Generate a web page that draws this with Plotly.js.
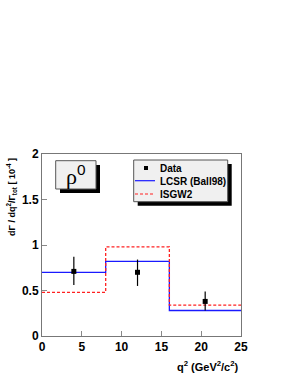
<!DOCTYPE html>
<html><head><meta charset="utf-8">
<script src="https://cdn.plot.ly/plotly-3.0.1.min.js"></script>
<style>body{margin:0;padding:0;background:#fff}#c{width:291px;height:376px}</style>
</head><body><div id="c"></div>
<script>
// Data
const binEdges = [0, 8, 16, 25];
const lcsr = [0.70, 0.82, 0.28];
const isgw2 = [0.48, 0.98, 0.34];
const dataX = [4, 12, 20.5];
const dataY = [0.71, 0.70, 0.38];
const errUp = [0.16, 0.14, 0.11];
const errDown = [0.15, 0.15, 0.10];
const xTicks = [0, 5, 10, 15, 20, 25];
const yTicks = [0, 0.5, 1, 1.5, 2];

const stepY = arr => arr.concat([arr[arr.length - 1]]);
const F = 'Liberation Sans, Arial, sans-serif';

const traces = [
  {x: binEdges, y: stepY(lcsr), mode: 'lines', line: {shape: 'hv', color: '#1a1aff', width: 1.3}, name: 'LCSR (Ball98)', showlegend: false},
  {x: binEdges, y: stepY(isgw2), mode: 'lines', line: {shape: 'hv', color: '#ff2020', width: 1.3, dash: '3px,2px'}, name: 'ISGW2', showlegend: false},
  {x: dataX, y: dataY, mode: 'markers', marker: {symbol: 'square', size: 5, color: '#000'},
   error_y: {type: 'data', symmetric: false, array: errUp, arrayminus: errDown, color: '#000', thickness: 1.2, width: 0},
   name: 'Data', showlegend: false}
];

const L = {x0: 133.7, x1: 227.7, y0: 160, y1: 201.7};
const pl = 42, pr = 241, pt = 154, pb = 336;
const px = v => (v - pl) / (pr - pl);
const py = v => (pb - v) / (pb - pt);

const shapes = [
  {type: 'rect', xref: 'paper', yref: 'paper', x0: px(60), x1: px(100), y0: py(193), y1: py(165), fillcolor: '#000', line: {width: 0}, layer: 'above'},
  {type: 'rect', xref: 'paper', yref: 'paper', x0: px(55.7), x1: px(96), y0: py(189), y1: py(160.7), fillcolor: '#f0f0f0', line: {color: '#555', width: 1}, layer: 'above'},
  {type: 'rect', xref: 'paper', yref: 'paper', x0: px(L.x0 + 4), x1: px(L.x1 + 4), y0: py(L.y1 + 4), y1: py(L.y0 + 4), fillcolor: '#000', line: {width: 0}, layer: 'above'},
  {type: 'rect', xref: 'paper', yref: 'paper', x0: px(L.x0), x1: px(L.x1), y0: py(L.y1), y1: py(L.y0), fillcolor: '#f0f0f0', line: {color: '#555', width: 1}, layer: 'above'},
  {type: 'rect', xref: 'paper', yref: 'paper', x0: px(144), x1: px(148), y0: py(170), y1: py(166), fillcolor: '#000', line: {width: 0}, layer: 'above'},
  {type: 'line', xref: 'paper', yref: 'paper', x0: px(135), x1: px(155), y0: py(180.7), y1: py(180.7), line: {color: '#1a1aff', width: 1.2}, layer: 'above'},
  {type: 'line', xref: 'paper', yref: 'paper', x0: px(135), x1: px(155), y0: py(194), y1: py(194), line: {color: '#ff2020', width: 1.2, dash: '3px,2px'}, layer: 'above'}
];

const annotations = [
  {xref: 'paper', yref: 'paper', x: px(76), y: py(175), text: '<span style="font-family:Liberation Serif,serif">ρ</span><sup>0</sup>', showarrow: false, font: {family: F, size: 22, color: '#000'}, xanchor: 'center', yanchor: 'middle'},
  {xref: 'paper', yref: 'paper', x: px(158), y: py(168), text: '<b>Data</b>', showarrow: false, font: {family: F, size: 10, color: '#000'}, xanchor: 'left', yanchor: 'middle'},
  {xref: 'paper', yref: 'paper', x: px(158), y: py(181), text: '<b>LCSR (Ball98)</b>', showarrow: false, font: {family: F, size: 10, color: '#000'}, xanchor: 'left', yanchor: 'middle'},
  {xref: 'paper', yref: 'paper', x: px(158), y: py(194), text: '<b>ISGW2</b>', showarrow: false, font: {family: F, size: 10, color: '#000'}, xanchor: 'left', yanchor: 'middle'},
  {xref: 'paper', yref: 'paper', x: px(11), y: py(197), text: '<b>dΓ / dq<sup>2</sup>/Γ<sub>tot</sub> [ 10<sup>-4</sup> ]</b>', showarrow: false, textangle: -90, font: {family: F, size: 9, color: '#000'}, xanchor: 'center', yanchor: 'middle'},
  {xref: 'paper', yref: 'paper', x: px(241), y: py(366), text: '<b>q<sup>2</sup> (GeV<sup>2</sup>/c<sup>2</sup>)</b>', showarrow: false, font: {family: F, size: 11, color: '#000'}, xanchor: 'right', yanchor: 'middle'}
];

const axisCommon = {ticks: 'inside', ticklen: 5, tickcolor: '#888', tickwidth: 1,
  showline: true, linecolor: '#777', linewidth: 1, mirror: true, showgrid: false, zeroline: false,
  tickfont: {family: F, size: 12, color: '#000', weight: 'bold'}};

const layout = {
  width: 291, height: 376,
  margin: {l: pl, r: 291 - pr, t: pt, b: 376 - pb, pad: 0},
  paper_bgcolor: '#fff', plot_bgcolor: '#fff',
  showlegend: false,
  xaxis: Object.assign({range: [0, 25], tickvals: xTicks, ticktext: xTicks.map(String)}, axisCommon),
  yaxis: Object.assign({range: [0, 2], tickvals: yTicks, ticktext: yTicks.map(String)}, axisCommon),
  shapes: shapes, annotations: annotations
};

Plotly.newPlot('c', traces, layout, {staticPlot: true, displayModeBar: false});
</script></body></html>
